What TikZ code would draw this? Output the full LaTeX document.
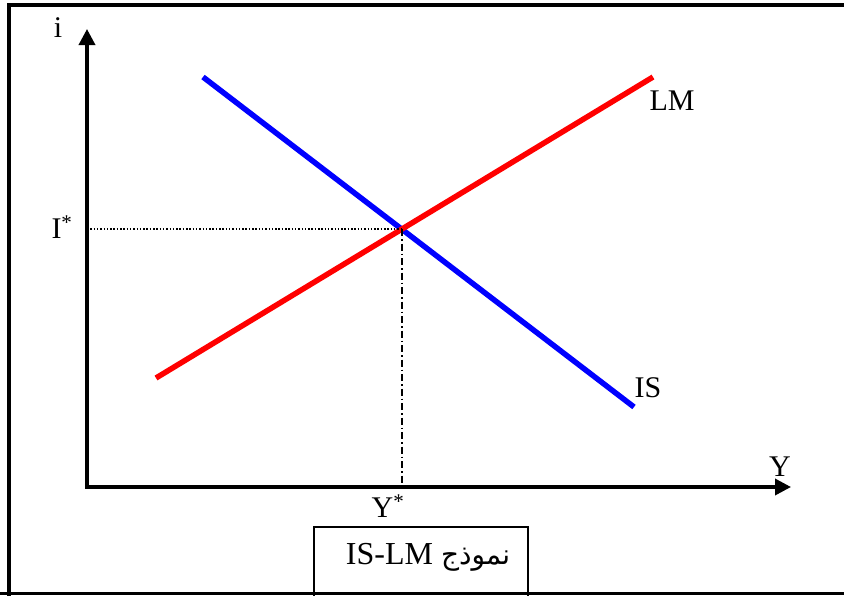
\documentclass[tikz,border=0pt]{standalone}
\usepackage{fontspec}
\setmainfont{Liberation Serif}
\newfontfamily\arabicfont[Script=Arabic]{DejaVu Sans}
\TeXXeTstate=1
\usetikzlibrary{arrows.meta}
\definecolor{islmred}{HTML}{FF0000}
\definecolor{islmblue}{HTML}{0000FF}

\begin{document}
\begin{tikzpicture}[
    x=1pt,
    y=-1pt,
    font=\fontsize{30}{36}\selectfont,
    axis/.style={{Triangle[length=16pt,width=16pt]}-{Triangle[length=16pt,width=16pt]}, line width=3.5pt},
    curve/.style={line width=5.5pt},
    guide/.style={line width=1.6pt},
    lbl/.style={inner sep=0pt},
    capbox/.style={draw, line width=2pt, minimum width=214pt, minimum height=70pt}
  ]
    \clip (0,0) rectangle (844,595);
    % frame (right side cut off)
    \draw[line width=3.5pt] (9,600) -- (9,5) -- (860,5);
    \draw[line width=3pt] (0,593) -- (860,593);

    % axes
    \coordinate (O) at (87,487);
    \coordinate (ytip) at (87,29);
    \coordinate (xtip) at (791,487);
    \draw[axis] (ytip) -- (O) -- (xtip);
    \node[lbl] (ilab) at (58,28) {i};
    \node[lbl] (ylab) at (780,467) {Y};

    % IS and LM curves
    \coordinate (lm0) at (156,378);
    \coordinate (lm1) at (653,77);
    \coordinate (is0) at (203,77);
    \coordinate (is1) at (634,407);
    \draw[curve, draw=islmblue] (is0) -- (is1);
    \draw[curve, draw=islmred] (lm0) -- (lm1);
    \node[lbl] (lmlab) at (672,101) {LM};
    \node[lbl] (islab) at (648,388) {IS};

    % equilibrium
    \coordinate (E) at (intersection of lm0--lm1 and is0--is1);
    \coordinate (Ei) at (O |- E);
    \coordinate (Ey) at (E |- O);
    \draw[guide, dash pattern=on 1.5pt off 1.8pt] (Ei) -- (E);
    \draw[guide, dash pattern=on 7pt off 3pt on 1.5pt off 3pt] (E) -- (Ey);
    \node[lbl] (istar) at (62,227) {I\textsuperscript{*}};
    \node[lbl] (ystar) at (388,506) {Y\textsuperscript{*}};

    % caption
    \node[capbox] (capframe) at (421,562) {};
    \node[lbl, font=\fontsize{32}{38}\selectfont] (captext) at (428,557) {\beginR{\arabicfont\fontsize{28}{34}\selectfont نموذج} \beginL IS-LM\endL\endR};
  \end{tikzpicture}
\end{document}
